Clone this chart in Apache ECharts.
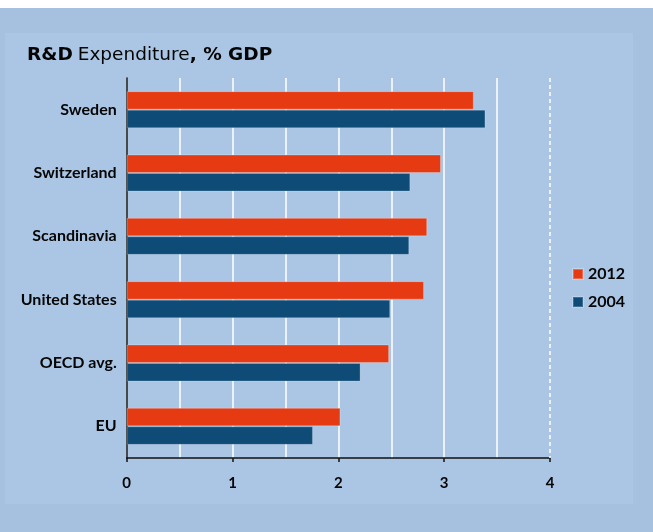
<!DOCTYPE html>
<html>
<head>
<meta charset="utf-8">
<script src="https://cdn.jsdelivr.net/npm/echarts@6/dist/echarts.min.js"></script>
<style>
  html, body { margin: 0; padding: 0; background: #ffffff; }
  #chart { width: 653px; height: 532px; }
</style>
</head>
<body>
<div id="chart"></div>
<script>
// R&D spending as a share of GDP
const categories = ['Sweden', 'Switzerland', 'Scandinavia', 'United States', 'OECD avg.', 'EU'];
const values2012 = [3.28, 2.97, 2.84, 2.81, 2.48, 2.02];
const values2004 = [3.39, 2.68, 2.67, 2.49, 2.21, 1.76];
const seriesNames = ['2012', '2004'];
const xTicks = [0, 1, 2, 3, 4];

const ORANGE = '#e63a12';
const BLUE = '#0e4b77';
const FONT = 'Lato';
const INK = '#050505';

const chart = echarts.init(document.getElementById('chart'), null, { renderer: 'canvas' });

chart.setOption({
  animation: false,
  backgroundColor: '#ffffff',
  graphic: [
    { type: 'rect', z: -10, shape: { x: 0, y: 8, width: 653, height: 524 }, style: { fill: '#a6c1e0' } },
    { type: 'rect', z: -9, shape: { x: 5, y: 33, width: 628, height: 471 }, style: { fill: '#abc6e4' } }
  ],
  title: {
    text: '{b|R&D} {r|Expenditure}{b|, % GDP}',
    left: 22,
    top: 41,
    textStyle: {
      rich: {
        b: { fontFamily: 'DejaVu Sans', fontWeight: 'bold', fontSize: 18.5, color: INK },
        r: { fontFamily: 'DejaVu Sans', fontWeight: 'normal', fontSize: 18.5, color: INK }
      }
    }
  },
  legend: {
    orient: 'vertical',
    left: 567,
    top: 261,
    itemWidth: 10,
    itemHeight: 10,
    itemGap: 12,
    icon: 'rect',
    data: seriesNames,
    textStyle: { fontFamily: FONT, fontWeight: 'bold', fontSize: 16, color: INK }
  },
  grid: { left: 126.7, right: 103, top: 78, bottom: 74, containLabel: false },
  xAxis: {
    type: 'value',
    min: xTicks[0],
    max: xTicks[xTicks.length - 1],
    interval: 1,
    axisLine: { show: true, lineStyle: { color: '#111', width: 1.5 } },
    axisTick: { show: true, length: 4, lineStyle: { color: '#111', width: 1.5 } },
    axisLabel: { margin: 18, fontFamily: FONT, fontWeight: 'bold', fontSize: 15, color: INK },
    splitLine: { show: true, lineStyle: { color: ['#ffffff', '#ffffff', '#ffffff', '#ffffff', 'rgba(0,0,0,0)'], width: 1.5 } },
    minorTick: { show: false, splitNumber: 2 },
    minorSplitLine: { show: true, lineStyle: { color: '#ffffff', width: 1.5 } }
  },
  yAxis: {
    type: 'category',
    data: categories,
    inverse: true,
    axisLine: { show: true, lineStyle: { color: '#111', width: 1.5 } },
    axisTick: { show: false },
    axisLabel: { margin: 10, fontFamily: FONT, fontWeight: 'bold', fontSize: 16, color: INK }
  },
  series: [
    {
      name: seriesNames[0],
      type: 'bar',
      data: values2012,
      barWidth: 18.5,
      barGap: '0%',
      itemStyle: { color: ORANGE, borderColor: 'rgba(255,255,255,0.25)', borderWidth: 1 },
      markLine: {
        silent: true,
        symbol: 'none',
        label: { show: false },
        lineStyle: { color: '#ffffff', type: [4, 3], width: 1.5 },
        data: [{ xAxis: xTicks[xTicks.length - 1] }]
      }
    },
    {
      name: seriesNames[1],
      type: 'bar',
      data: values2004,
      barWidth: 18.5,
      barGap: '0%',
      itemStyle: { color: BLUE, borderColor: 'rgba(255,255,255,0.2)', borderWidth: 1 }
    }
  ]
});
</script>
</body>
</html>
